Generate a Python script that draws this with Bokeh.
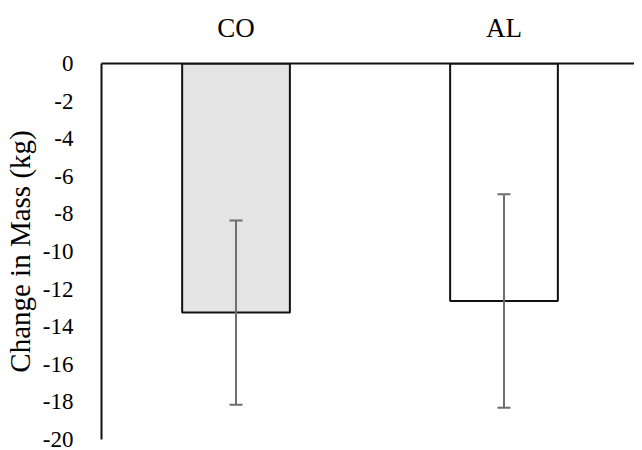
from bokeh.plotting import figure
from bokeh.models import ColumnDataSource, Whisker, TeeHead, FixedTicker, Range1d
from bokeh.embed import file_html
from bokeh.resources import INLINE

groups = ["CO", "AL"]
mass_change = [-13.25, -12.63]
sd = [4.9, 5.68]
fills = ["#e4e4e4", "#ffffff"]
y_ticks = [0, -2, -4, -6, -8, -10, -12, -14, -16, -18, -20]

x_pos = list(range(1, len(groups) + 1))
lower = [m - s for m, s in zip(mass_change, sd)]
upper = [m + s for m, s in zip(mass_change, sd)]
src = ColumnDataSource(dict(x=x_pos, v=mass_change, fill=fills, lo=lower, hi=upper))

FONT = "Liberation Serif"

p = figure(x_range=Range1d(0.498, 2.487), y_range=Range1d(-20, 0), width=634, height=447,
           output_backend="svg", toolbar_location=None, x_axis_location="above",
           min_border_left=95, min_border_right=0, min_border_top=0, min_border_bottom=8)

p.vbar(x="x", top=0, bottom="v", width=0.402, source=src,
       fill_color="fill", line_color="#111111", line_width=2)

w = Whisker(base="x", upper="hi", lower="lo", source=src, level="overlay",
            line_color="#6f6f6f", line_width=2,
            upper_head=TeeHead(size=13, line_color="#6f6f6f", line_width=2),
            lower_head=TeeHead(size=13, line_color="#6f6f6f", line_width=2))
p.add_layout(w)

p.xgrid.grid_line_color = None
p.ygrid.grid_line_color = None
p.outline_line_color = None

p.xaxis.ticker = FixedTicker(ticks=x_pos)
p.xaxis.major_label_overrides = {x: g for x, g in zip(x_pos, groups)}
p.yaxis.ticker = FixedTicker(ticks=y_ticks)
p.yaxis.major_label_overrides = {t: str(t) for t in y_ticks}
for ax in (p.xaxis, p.yaxis):
    ax.axis_line_color = "#111111"
    ax.axis_line_width = 2
    ax.major_tick_line_color = None
    ax.minor_tick_line_color = None
    ax.major_label_text_font = FONT
    ax.major_label_text_color = "#000000"

p.xaxis.major_label_text_font_size = "27px"
p.xaxis.major_label_standoff = 15
p.xaxis.axis_label = " "
p.xaxis.axis_label_text_font_size = "5px"
p.xaxis.axis_label_standoff = 0
p.yaxis.major_label_text_font_size = "23px"
p.yaxis.major_label_standoff = 22

p.yaxis.axis_label = "Change in Mass (kg)"
p.yaxis.axis_label_text_font = FONT
p.yaxis.axis_label_text_font_style = "normal"
p.yaxis.axis_label_text_font_size = "29px"
p.yaxis.axis_label_text_color = "#000000"
p.yaxis.axis_label_standoff = 4

open("out.html", "w").write(file_html(p, INLINE))
